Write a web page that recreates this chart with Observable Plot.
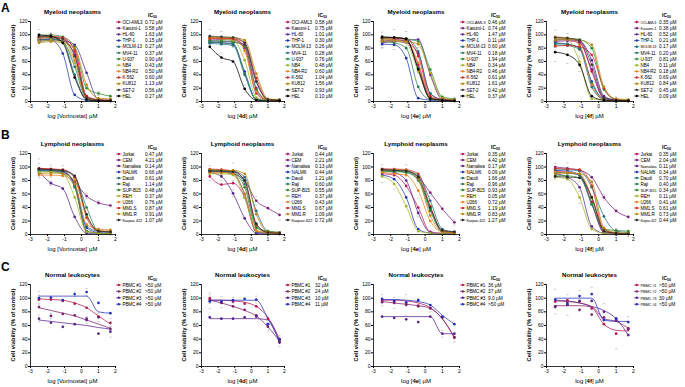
<!DOCTYPE html>
<html><head><meta charset="utf-8">
<script src="https://cdn.jsdelivr.net/npm/d3@7"></script>
<script src="https://cdn.jsdelivr.net/npm/@observablehq/plot@0.6"></script>
<style>
body{margin:0;background:#fff}
#root{position:relative;width:685px;height:387px;overflow:hidden;font-family:Arial,"Liberation Sans",sans-serif}
.p{position:absolute}
</style></head><body><div id="root"></div>
<script>
// ---------- shared axes ----------
const logConc = [-2.5, -1.8, -1.1, -0.4, 0.3, 1.0, 1.7];
const xTicks = [-3, -2, -1, 0, 1, 2];
const yTicks = [0, 20, 40, 60, 80, 100, 120];
const compounds = ["Vorinostat", "4d", "4e", "4f"];
const rowTitles = ["Myeloid neoplasms", "Lymphoid neoplasms", "Normal leukocytes"];
const rowLetters = ["A", "B", "C"];

// ---------- series names / colours ----------
const myeloidLines = ["OCI-AML3","Kasumi-1","HL-60","THP-1","MOLM-13","MV4-11","U-937","NB4","NB4-R2","K-562","KU812","SET-2","HEL"];
const myeloidColors = ["#c0185a","#7d1e7e","#5a2290","#1f35b5","#1f6b7a","#267a55","#2f8a2f","#a5b52e","#e8801f","#d42a24","#b8860b","#3a3a3a","#000000"];
const lymphoidLines = ["Jurkat","CEM","Namalwa","NALM6","Daudi","Raji","SUP-B15","REH","U266","MM1.S","MM1.R","Karpas 422"];
const lymphoidColors = ["#c0185a","#7d1e7e","#5a2290","#1f35b5","#1f6b7a","#267a55","#2f8a2f","#a5b52e","#e8801f","#d42a24","#b8860b","#2a2a2a"];
const normalLines = ["PBMC #1","PBMC #2","PBMC #3","PBMC #4"];
const normalColors = ["#b5174f","#7d1e6e","#5a2290","#2430c0"];

// ---------- IC50 labels ----------
const vorMyeloidIC50 = ["0.72 µM","0.58 µM","1.63 µM","0.15 µM","0.27 µM","0.37 µM","0.90 µM","0.43 µM","0.50 µM","0.60 µM","1.13 µM","0.56 µM","0.27 µM"];
const d4MyeloidIC50  = ["0.58 µM","0.75 µM","1.01 µM","0.30 µM","0.26 µM","0.28 µM","0.76 µM","0.48 µM","0.60 µM","1.04 µM","1.56 µM","0.93 µM","0.10 µM"];
const e4MyeloidIC50  = ["0.46 µM","0.74 µM","1.47 µM","0.11 µM","0.60 µM","0.18 µM","1.94 µM","0.34 µM","0.46 µM","0.61 µM","1.61 µM","0.42 µM","0.37 µM"];
const f4MyeloidIC50  = ["0.35 µM","0.38 µM","0.52 µM","0.21 µM","0.17 µM","0.20 µM","0.81 µM","0.11 µM","0.18 µM","0.69 µM","0.84 µM","0.45 µM","0.09 µM"];
const vorLymphoidIC50 = ["0.47 µM","4.21 µM","0.14 µM","0.66 µM","0.61 µM","1.14 µM","0.48 µM","0.37 µM","0.76 µM","0.87 µM","0.91 µM","1.07 µM"];
const d4LymphoidIC50  = ["0.44 µM","2.21 µM","0.13 µM","0.44 µM","1.21 µM","0.60 µM","0.55 µM","0.37 µM","0.43 µM","0.67 µM","1.09 µM","0.72 µM"];
const e4LymphoidIC50  = ["0.35 µM","4.42 µM","0.17 µM","0.09 µM","1.66 µM","0.96 µM","0.93 µM","0.05 µM","0.72 µM","1.19 µM","0.83 µM","1.27 µM"];
const f4LymphoidIC50  = ["0.35 µM","2.04 µM","0.11 µM","0.34 µM","0.70 µM","0.40 µM","0.34 µM","0.11 µM","0.41 µM","0.61 µM","0.73 µM","0.44 µM"];
const vorNormalIC50 = [">50 µM",">50 µM",">50 µM",">50 µM"];
const d4NormalIC50  = ["32 µM","24 µM","10 µM","11 µM"];
const e4NormalIC50  = ["36 µM","37 µM","9.0 µM",">50 µM"];
const f4NormalIC50  = [">50 µM",">50 µM","30 µM",">50 µM"];

// ---------- viability (% of control) at each log concentration ----------
const vorMyeloid = [
  [95,96,94,78,8,2,1],[92,93,91,70,5,2,1],[90,92,91,85,43,3,2],[93,92,72,10,2,1,1],
  [96,95,90,40,3,1,1],[93,94,90,52,4,2,1],[98,100,97,82,20,12,8],[90,92,88,58,4,2,1],
  [95,96,93,62,5,2,1],[97,98,96,75,8,3,2],[88,90,88,80,25,5,4],[98,97,94,68,6,2,1],[100,98,88,36,3,1,1]];
const d4Myeloid = [
  [96,95,94,80,12,2,1],[92,93,92,84,20,2,2],[88,90,89,85,30,3,2],[90,88,86,45,3,2,1],
  [87,86,84,40,3,2,1],[89,88,87,42,3,2,1],[92,91,90,82,18,3,2],[95,94,92,62,6,2,1],
  [96,95,94,76,14,3,2],[94,95,94,88,35,3,2],[97,96,96,92,42,4,3],[98,97,96,88,30,3,2],[82,66,60,19,2,1,1]];
const e4Myeloid = [
  [92,93,90,55,5,2,1],[88,90,88,72,12,3,2],[90,92,92,93,40,3,2],[86,85,65,5,2,1,1],
  [95,96,94,75,12,3,2],[90,88,80,22,3,2,1],[96,95,94,90,48,7,4],[93,92,88,45,4,2,1],
  [94,95,92,58,6,2,1],[96,95,94,68,8,3,2],[90,91,90,86,42,5,3],[95,96,93,50,5,2,1],[97,96,94,48,4,2,1]];
const f4Myeloid = [
  [94,93,90,45,4,2,1],[90,91,88,48,5,2,1],[92,93,91,62,8,2,1],[88,86,80,30,3,1,1],
  [85,84,78,22,3,1,1],[87,86,80,28,3,1,1],[96,95,93,80,18,3,2],[95,93,60,4,2,1,1],
  [97,95,85,25,3,1,1],[83,84,82,70,20,3,2],[92,93,92,85,22,4,3],[96,95,92,55,6,2,1],[74,70,55,8,2,1,1]];
const vorLymphoid = [
  [98,97,95,72,5,2,1],[96,95,93,78,57,47,43],[93,76,68,26,2,1,1],[95,94,92,75,10,3,2],
  [97,96,94,72,12,5,4],[96,95,94,85,40,5,3],[94,93,90,70,5,2,1],[92,93,90,55,4,2,1],
  [88,88,87,75,15,8,7],[98,97,96,85,25,5,4],[90,91,90,80,28,6,5],[97,96,95,87,30,5,4]];
const d4Lymphoid = [
  [86,74,76,55,4,2,1],[95,94,90,80,50,39,29],[92,86,61,24,2,1,1],[94,93,90,60,4,2,1],
  [96,95,94,85,35,5,3],[95,94,92,75,12,3,2],[93,92,90,70,10,5,3],[90,90,88,55,5,2,1],
  [92,92,90,60,6,3,2],[97,96,94,80,15,3,2],[96,95,95,90,30,4,3],[94,94,93,80,16,3,2]];
const e4Lymphoid = [
  [90,88,72,40,4,2,1],[97,96,94,85,62,38,18],[95,92,80,32,3,1,1],[88,82,55,8,2,1,1],
  [96,95,94,88,50,8,4],[94,94,92,80,35,4,2],[93,93,92,82,38,5,3],[86,75,42,5,2,1,1],
  [92,90,88,65,20,4,3],[97,97,96,90,42,5,3],[95,96,95,82,28,4,2],[96,95,94,85,40,6,4]];
const f4Lymphoid = [
  [94,92,88,48,4,2,1],[100,98,95,85,55,35,26],[90,85,70,12,2,1,1],[95,94,88,45,3,1,1],
  [97,96,94,70,27,5,3],[92,91,88,55,8,2,1],[88,87,84,45,8,6,5],[85,82,55,8,2,1,1],
  [93,92,90,55,5,2,1],[98,97,96,72,6,2,1],[90,91,90,78,10,3,2],[86,85,84,55,5,2,1]];
// normal leukocytes: measured points and fitted-curve readings
const vorNormalPts = [[98,98,96,92,86,73,64],[87,74,77,75,70,72,55],[70,64,58,62,68,48,51],[100,101,97,106,109,93,78]];
const vorNormalFit = [[99,98,97,93,86,74,62],[86,82,78,74,68,62,56],[68,66,64,62,60,57,55],[103,103,103,103,103,80,78]];
const d4NormalPts = [[100,94,95,92,88,70,40],[97,93,88,83,75,58,37],[72,70,70,72,73,62,35],[95,95,97,99,98,62,40]];
const d4NormalFit = [[97,97,96,94,88,72,40],[97,93,88,82,74,58,37],[70,70,70,70,70,68,34],[97,97,97,97,97,70,38]];
const e4NormalPts = [[97,95,92,89,85,72,42],[94,93,90,88,86,72,43],[73,71,69,65,73,48,48],[99,96,94,97,90,73,62]];
const e4NormalFit = [[97,97,96,93,86,70,42],[95,93,91,89,85,70,43],[73,73,73,73,73,48,48],[98,98,97,95,90,75,62]];
const f4NormalPts = [[95,97,95,85,62,48,56],[87,90,83,76,72,67,54],[88,93,96,96,80,70,46],[98,91,103,106,68,70,65]];
const f4NormalFit = [[96,95,93,87,62,53,52],[89,89,89,87,70,66,56],[97,96,93,88,82,70,46],[100,100,100,100,68,66,66]];

// error bars: [series, concentration index, SD]
const vorMyeloidErr = [[12,0,8],[0,0,6],[4,1,7],[12,1,5],[2,2,6],[0,3,6],[8,3,5],[6,5,3]];
const d4MyeloidErr = [[0,0,12],[3,0,8],[12,1,7],[0,1,10],[2,2,8],[12,3,5],[8,3,4]];
const e4MyeloidErr = [[0,0,12],[5,0,9],[12,1,12],[3,1,7],[12,2,11],[4,3,6],[11,3,7]];
const f4MyeloidErr = [[0,0,13],[12,0,14],[12,1,13],[6,1,7],[7,2,8],[12,2,10],[8,3,6],[9,5,4]];
const vorLymphoidErr = [[0,0,14],[5,0,9],[3,1,9],[2,1,3],[4,2,8],[1,4,4],[1,5,3]];
const d4LymphoidErr = [[0,0,6],[5,0,7],[0,1,6],[11,2,13],[2,2,5],[1,4,6],[1,6,8]];
const e4LymphoidErr = [[0,0,13],[7,1,8],[10,2,8],[0,3,14],[4,4,7],[1,6,4]];
const f4LymphoidErr = [[0,0,12],[1,1,8],[7,2,9],[6,2,6],[1,4,4],[4,5,4],[11,6,4]];
const vorNormalErr = [[0,0,6],[3,0,10],[2,0,5],[1,1,4],[3,3,4],[3,4,5],[2,4,5],[1,5,6],[2,6,8],[0,6,6]];
const d4NormalErr = [[0,0,8],[3,0,10],[0,1,8],[3,2,4],[3,4,5],[1,5,5],[0,6,5],[2,6,6]];
const e4NormalErr = [[0,0,8],[1,1,8],[1,2,15],[3,3,3],[0,4,5],[2,5,5],[0,6,6]];
const f4NormalErr = [[0,0,18],[1,1,15],[2,2,15],[3,3,10],[2,4,12],[0,5,22],[3,6,8]];

// ---------- layout ----------
const colRects = [{l:30,r:115},{l:201,r:284},{l:373,r:459},{l:546,r:633}];
const rowRects = [{t:21,b:101},{t:153,b:234},{t:284,b:366}];
const valueOffsets = [30,31,29,26];
const legendSpacing = [6.17, 6.0, 6.4];

const panels = [
  [vorMyeloid, d4Myeloid, e4Myeloid, f4Myeloid],
  [vorLymphoid, d4Lymphoid, e4Lymphoid, f4Lymphoid],
  [[vorNormalPts, vorNormalFit],[d4NormalPts, d4NormalFit],[e4NormalPts, e4NormalFit],[f4NormalPts, f4NormalFit]]
];
const panelIC50 = [
  [vorMyeloidIC50, d4MyeloidIC50, e4MyeloidIC50, f4MyeloidIC50],
  [vorLymphoidIC50, d4LymphoidIC50, e4LymphoidIC50, f4LymphoidIC50],
  [vorNormalIC50, d4NormalIC50, e4NormalIC50, f4NormalIC50]
];
const panelErr = [
  [vorMyeloidErr, d4MyeloidErr, e4MyeloidErr, f4MyeloidErr],
  [vorLymphoidErr, d4LymphoidErr, e4LymphoidErr, f4LymphoidErr],
  [vorNormalErr, d4NormalErr, e4NormalErr, f4NormalErr]
];
const rowNames = [myeloidLines, lymphoidLines, normalLines];
const rowColors = [myeloidColors, lymphoidColors, normalColors];

const root = document.getElementById("root");
const ML = 20, MR = 4, MT = 4, MB = 11;

for (let r = 0; r < 3; r++) {
  for (let c = 0; c < 4; c++) {
    const cr = colRects[c], rr = rowRects[r];
    const names = rowNames[r], colors = rowColors[r];
    let pts, fit;
    if (r < 2) { pts = panels[r][c]; fit = pts; } else { pts = panels[r][c][0]; fit = panels[r][c][1]; }
    const ptData = pts.flatMap((vals, i) => vals.map((v, k) => ({x: logConc[k], y: v, s: names[i]})));
    const fitData = fit.flatMap((vals, i) => vals.map((v, k) => ({x: logConc[k], y: v, s: names[i]})));
    const errData = panelErr[r][c].map(([i, k, e]) => ({x: logConc[k], y: pts[i][k], e}));
    const chart = Plot.plot({
      width: (cr.r - cr.l) + ML + MR,
      height: (rr.b - rr.t) + MT + MB,
      marginLeft: ML, marginRight: MR, marginTop: MT, marginBottom: MB,
      x: {domain: [-3, 2]},
      y: {domain: [0, 120]},
      color: {domain: names, range: colors},
      style: {fontSize: "5px", fontFamily: "Arial, 'Liberation Sans', sans-serif", background: "transparent", overflow: "visible"},
      marks: [
        Plot.ruleY(errData, {x: "x", y1: d => d.y - d.e, y2: d => d.y + d.e, stroke: "#9a9a9a", strokeWidth: 0.5}),
        Plot.link(errData, {x1: d => d.x - 0.07, x2: d => d.x + 0.07, y1: d => d.y + d.e, y2: d => d.y + d.e, stroke: "#9a9a9a", strokeWidth: 0.5}),
        Plot.link(errData, {x1: d => d.x - 0.07, x2: d => d.x + 0.07, y1: d => d.y - d.e, y2: d => d.y - d.e, stroke: "#9a9a9a", strokeWidth: 0.5}),
        Plot.line(fitData, {x: "x", y: "y", z: "s", stroke: "s", curve: "monotone-x", strokeWidth: 0.75}),
        Plot.dot(ptData, {x: "x", y: "y", fill: "s", r: 1.35}),
        Plot.axisX(xTicks, {tickSize: 2, tickPadding: 1, tickFormat: d => String(d), label: null, fontSize: 5}),
        Plot.axisY(yTicks, {tickSize: 2, tickPadding: 1, tickFormat: d => String(d), label: null, fontSize: 5}),
        Plot.ruleX([-3], {stroke: "#000", strokeWidth: 0.8}),
        Plot.ruleY([0], {stroke: "#000", strokeWidth: 0.8})
      ]
    });
    chart.classList.add("p");
    chart.style.left = (cr.l - ML) + "px";
    chart.style.top = (rr.t - MT) + "px";
    root.appendChild(chart);
  }
}

// ---------- overlay text: titles, axis labels, legends ----------
const svg = d3.select(root).append("svg").attr("class", "p")
  .attr("width", 685).attr("height", 387).style("left", "0px").style("top", "0px")
  .style("font-family", "Arial, 'Liberation Sans', sans-serif");
const letterBase = [12, 139, 271];
function fitText(sel, maxW, fs) {
  const w = sel.node().getComputedTextLength();
  if (w > maxW) sel.attr("font-size", (fs * maxW / w).toFixed(2));
}
for (let r = 0; r < 3; r++) {
  svg.append("text").attr("x", 1).attr("y", letterBase[r]).attr("font-size", 12).attr("font-weight", "bold").text(rowLetters[r]);
  const rr = rowRects[r];
  for (let c = 0; c < 4; c++) {
    const cr = colRects[c];
    const cx = (cr.l + cr.r) / 2;
    svg.append("text").attr("x", cx).attr("y", rr.t - 7).attr("text-anchor", "middle")
      .attr("font-size", 6.2).attr("font-weight", "bold").text(rowTitles[r]);
    // y label
    svg.append("text").attr("transform", `translate(${cr.l - 15},${(rr.t + rr.b) / 2}) rotate(-90)`)
      .attr("text-anchor", "middle").attr("font-size", 5.8).attr("font-weight", "bold")
      .text("Cell viability (% of control)");
    // x label
    const xl = svg.append("text").attr("x", cx).attr("y", rr.b + 17).attr("text-anchor", "middle").attr("font-size", 6);
    xl.append("tspan").text("log [");
    xl.append("tspan").attr("font-weight", c > 0 ? "bold" : "normal").text(compounds[c]);
    xl.append("tspan").text("] µM");
    // legend
    const names = rowNames[r], colors = rowColors[r], ic = panelIC50[r][c];
    const h = svg.append("text").attr("x", cr.r + valueOffsets[c] + 3).attr("y", rr.t - 4.5).attr("font-size", 5).attr("font-weight", "bold");
    h.append("tspan").text("IC");
    h.append("tspan").attr("font-size", 3.5).attr("dy", 1).text("50");
    names.forEach((n, i) => {
      const y = rr.t + 1 + i * legendSpacing[r];
      svg.append("line").attr("x1", cr.r + 1).attr("x2", cr.r + 6.5).attr("y1", y).attr("y2", y)
        .attr("stroke", colors[i]).attr("stroke-width", 0.7);
      svg.append("circle").attr("cx", cr.r + 3.75).attr("cy", y).attr("r", 1.2).attr("fill", colors[i]);
      const t = svg.append("text").attr("x", cr.r + 7.5).attr("y", y + 1.7).attr("font-size", 4.6)
        .attr("letter-spacing", "-0.15px").text(n);
      fitText(t, valueOffsets[c] - 10, 4.6);
      const v = svg.append("text").attr("x", cr.r + valueOffsets[c]).attr("y", y + 1.7).attr("font-size", 4.8).text(ic[i]);
      fitText(v, 684 - (cr.r + valueOffsets[c]), 4.8);
    });
  }
}
</script></body></html>
